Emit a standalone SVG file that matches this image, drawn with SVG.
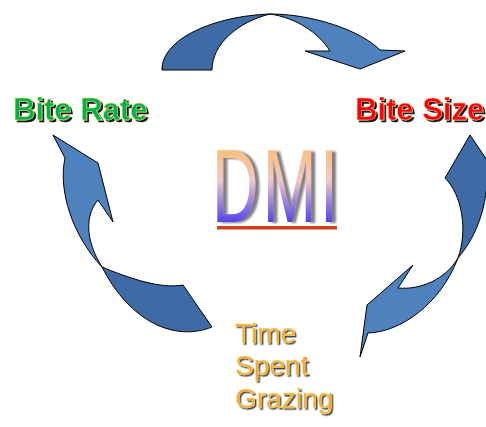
<svg xmlns="http://www.w3.org/2000/svg" width="486" height="427" viewBox="0 0 486 427">
<defs>
<linearGradient id="dmiGrad" x1="0" y1="0" x2="0" y2="1">
<stop offset="0" stop-color="#ffb848"/>
<stop offset="0.45" stop-color="#f0c8c8"/>
<stop offset="1" stop-color="#0000ff"/>
</linearGradient>
<filter id="shadowBlack" x="-10%" y="-20%" width="130%" height="160%">
<feDropShadow dx="2" dy="2" stdDeviation="0.6" flood-color="#000" flood-opacity="0.9"/>
</filter>
<filter id="shadowDark" x="-10%" y="-20%" width="130%" height="160%">
<feDropShadow dx="1.5" dy="1.5" stdDeviation="0.5" flood-color="#333" flood-opacity="0.9"/>
</filter>
<filter id="shadowGray" x="-10%" y="-10%" width="140%" height="130%">
<feDropShadow dx="4" dy="1" stdDeviation="1" flood-color="#808080" flood-opacity="1"/>
</filter>
</defs>
<style>
.light{fill:#4f81bd;stroke:#000;stroke-width:1;stroke-linejoin:round}
.dark{fill:#3e6aa6;stroke:#000;stroke-width:1;stroke-linejoin:round}
.lbl{font-family:"Liberation Sans",Arial,sans-serif;font-weight:bold;font-size:31px;filter:url(#shadowBlack)}
.tsg{font-family:"Liberation Sans",Arial,sans-serif;font-size:28px;fill:#f2a83a;stroke:#ffe080;stroke-width:0.4;filter:url(#shadowDark)}
.dmi{font-family:"Liberation Sans",Arial,sans-serif;font-size:104px}
</style>
<rect width="486" height="427" fill="#fff"/>
<g id="connectors">
<g id="arrow-top">
<path class="dark" d="M162,70 C162,38 215,16 270,14 C238,22 212,44 212,70 Z"/>
<path class="light" d="M270,14 C312,14 360,30 380,50 L405,51 L360,69 L305,51 L330,51 C318,32 296,18 270,14 Z"/>
</g>
<g id="arrow-right">
<path class="dark" d="M470,135 L487,160 C490,200 478,235 458,258 C468,230 462,195 445,178 Z"/>
<path class="light" d="M458,258 C445,280 420,290 398,288 L413,265 L367,305 L360,357 L368,333 C400,332 440,305 458,258 Z"/>
</g>
<g id="arrow-left">
<path class="light" d="M102,267 C85,240 85,215 98,200 L113,222 L98,163 L53,135 L65,158 C58,190 72,235 102,267 Z"/>
<path class="dark" d="M102,267 C150,287 170,287 183,285 L212,327 C175,342 130,322 102,267 Z"/>
</g>
</g>
<g id="node-bite-rate">
<text class="lbl" x="13" y="120" fill="#00b050" stroke="#e8e860" stroke-width="0.5">Bite Rate</text>
</g>
<g id="node-bite-size">
<text class="lbl" x="355" y="120" fill="#ff0000" stroke="#ffd0a0" stroke-width="0.5">Bite Size</text>
</g>
<g id="node-dmi">
<g filter="url(#shadowGray)">
<g transform="scale(0.62,1)" fill="url(#dmiGrad)">
<text class="dmi" x="342" y="222">D</text>
<text class="dmi" x="424" y="222">M</text>
<text class="dmi" x="516" y="222">I</text>
</g>
</g>
<rect x="217" y="226" width="120" height="3.5" fill="#d0401a"/>
</g>
<g id="node-time-spent-grazing">
<text class="tsg" x="235" y="343">Time</text>
<text class="tsg" x="235" y="375">Spent</text>
<text class="tsg" x="235" y="408">Grazing</text>
</g>
</svg>
